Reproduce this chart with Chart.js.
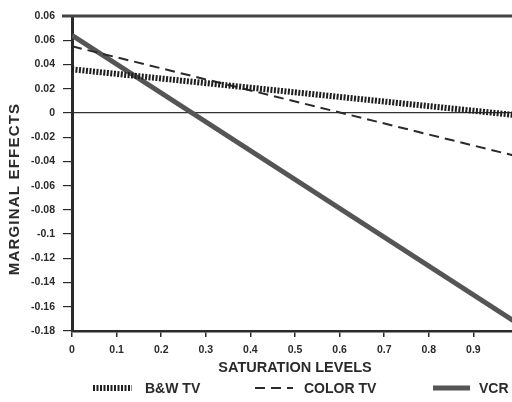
<!DOCTYPE html>
<html>
<head>
<meta charset="utf-8">
<script src="https://cdn.jsdelivr.net/npm/chart.js@4.4.0/dist/chart.umd.min.js"></script>
<style>
  html, body { margin: 0; padding: 0; overflow: hidden; background: #fff; }
  #wrap { width: 530px; height: 402px; }
</style>
</head>
<body>
<div id="wrap"><canvas id="chart"></canvas></div>
<script>
// Data
const saturation = [0, 1];
const bwTV = [0.036, -0.002];
const colorTV = [0.055, -0.036];
const vcr = [0.064, -0.174];

const seriesNames = ["B&W TV", "COLOR TV", "VCR"];
const xTickLabels = ["0", "0.1", "0.2", "0.3", "0.4", "0.5", "0.6", "0.7", "0.8", "0.9", ""];
// bottom to top, as printed
const yTickLabels = ["-0.18", "-0.16", "-0.14", "-0.12", "-0.1", "-0.08", "-0.06", "-0.04",
  "-0.02", "0", "0.02", "0.04", "0.06", "0.06"];

const ink = "#2a2a2a";
const font = "'Liberation Sans', Arial, sans-serif";

function pts(ys) {
  return saturation.map((x, i) => ({ x: x, y: ys[i] }));
}

// top frame line, y axis title and legend
const extras = {
  id: "extras",
  afterDraw(chart) {
    const c = chart.ctx;
    const a = chart.chartArea;
    c.save();
    c.strokeStyle = "#444";
    c.lineWidth = 3;
    c.beginPath();
    c.moveTo(a.left - 10, a.top);
    c.lineTo(chart.width, a.top);
    c.stroke();

    // y title
    c.save();
    c.translate(15, 189);
    c.rotate(-Math.PI / 2);
    c.fillStyle = ink;
    c.font = "bold 15px " + font;
    if ("letterSpacing" in c) c.letterSpacing = "1.2px";
    c.textAlign = "center";
    c.textBaseline = "middle";
    c.fillText("MARGINAL EFFECTS", 0, 0);
    c.restore();

    const y = 388;
    const items = [
      { x0: 93, x1: 132, tx: 145 },
      { x0: 255, x1: 293, tx: 304 },
      { x0: 433, x1: 470, tx: 479 }
    ];
    chart.data.datasets.forEach((ds, i) => {
      const it = items[i];
      c.strokeStyle = ds.borderColor;
      c.lineWidth = ds.borderWidth;
      c.setLineDash(ds.borderDash || []);
      c.beginPath();
      c.moveTo(it.x0, y);
      c.lineTo(it.x1, y);
      c.stroke();
      c.setLineDash([]);
      c.fillStyle = ink;
      c.font = "bold 14px " + font;
      c.textBaseline = "middle";
      c.fillText(ds.label, it.tx, y + 1);
    });
    c.restore();
  }
};

new Chart(document.getElementById("chart"), {
  type: "line",
  data: {
    datasets: [
      { label: seriesNames[0], data: pts(bwTV), borderColor: "#1e1e1e", borderWidth: 6, borderDash: [2, 1.5] },
      { label: seriesNames[1], data: pts(colorTV), borderColor: "#2a2a2a", borderWidth: 2, borderDash: [10, 6] },
      { label: seriesNames[2], data: pts(vcr), borderColor: "#555", borderWidth: 5 }
    ]
  },
  options: {
    responsive: true,
    maintainAspectRatio: false,
    animation: false,
    elements: { point: { radius: 0 }, line: { tension: 0 } },
    layout: { padding: { left: 8, top: 16, right: 12, bottom: 25 } },
    plugins: { legend: { display: false }, tooltip: { enabled: false } },
    scales: {
      x: {
        type: "linear",
        min: 0,
        max: 1,
        afterFit: s => { s.height = 46; },
        ticks: {
          stepSize: 0.1,
          padding: 7,
          color: ink,
          font: { family: font, size: 10.5, weight: "bold" },
          maxRotation: 0,
          callback: (v, i) => xTickLabels[i]
        },
        grid: { color: "transparent", tickColor: ink, tickLength: 6, lineWidth: 1.5 },
        border: { color: ink, width: 2.5 },
        title: {
          display: true,
          text: "SATURATION LEVELS",
          color: ink,
          font: { family: font, size: 14.5, weight: "bold" },
          padding: 0
        }
      },
      y: {
        min: -0.18,
        max: 0.08,
        afterFit: s => { s.width = 64; },
        ticks: {
          stepSize: 0.02,
          padding: 8,
          color: ink,
          font: { family: font, size: 10.5, weight: "bold" },
          callback: (v, i) => yTickLabels[i]
        },
        grid: {
          color: c => (c.tick && Math.abs(c.tick.value) < 1e-9 ? "#333" : "transparent"),
          tickColor: ink,
          tickLength: 9,
          lineWidth: 1.2
        },
        border: { color: ink, width: 3 }
      }
    }
  },
  plugins: [extras]
});
</script>
</body>
</html>
